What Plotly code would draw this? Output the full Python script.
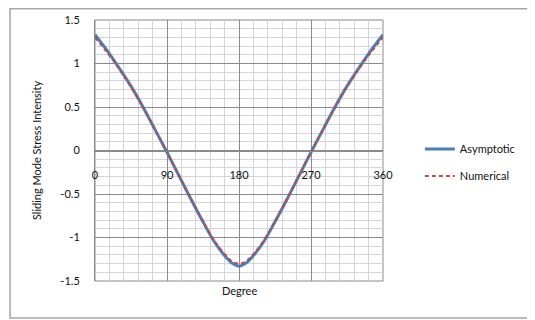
import plotly.graph_objects as go

# angles in degrees
degree = [0, 15, 30, 45, 60, 75, 90, 105, 120, 135, 150, 165, 172, 180,
          188, 195, 210, 225, 240, 255, 270, 285, 300, 315, 330, 345, 360]

asymptotic = [1.33, 1.15, 0.95, 0.74, 0.50, 0.24, -0.02, -0.29, -0.56, -0.82, -1.06, -1.24, -1.30, -1.33,
              -1.30, -1.24, -1.06, -0.82, -0.56, -0.29, -0.02, 0.24, 0.50, 0.74, 0.95, 1.15, 1.33]

numerical = [1.30, 1.13, 0.94, 0.73, 0.50, 0.24, -0.02, -0.29, -0.56, -0.81, -1.05, -1.22, -1.28, -1.30,
             -1.28, -1.22, -1.05, -0.81, -0.56, -0.29, -0.02, 0.24, 0.50, 0.73, 0.94, 1.13, 1.30]

x_ticks = [0, 90, 180, 270, 360]
y_ticks = [-1.5, -1, -0.5, 0, 0.5, 1, 1.5]
y_labels = ['-1.5', '-1', '-0.5', '0', '0.5', '1', '1.5']

FONT = "Lato, 'Open Sans', sans-serif"
MAJOR = '#8a8a8a'
MINOR = '#d4d4d4'

fig = go.Figure()
fig.add_trace(go.Scatter(x=degree, y=asymptotic, mode='lines', name='Asymptotic',
                         line=dict(color='#4a7ebb', width=3, shape='spline'),
                         legendgroup='a'))
fig.add_trace(go.Scatter(x=degree, y=numerical, mode='lines', name='Numerical',
                         line=dict(color='#be4b48', width=2, dash='4px,3px', shape='spline'),
                         legendgroup='n'))

# plot area border
fig.add_shape(type='rect', xref='paper', yref='paper', x0=0, y0=0, x1=1, y1=1,
              line=dict(color=MAJOR, width=1), layer='below')
# outer chart frame
fig.add_shape(type='rect', xref='paper', yref='paper', x0=-0.295, y0=-0.142, x1=1.521, y1=1.043,
              line=dict(color='#a6a6a6', width=1.5))

# page body adds 8px, so the figure is a bit smaller than the window
fig.update_layout(
    width=527, height=312,
    margin=dict(l=87, r=152, t=12, b=39),
    paper_bgcolor='white', plot_bgcolor='white',
    font=dict(family=FONT, size=11, color='#111111'),
    legend=dict(x=1.128, y=0.454, xanchor='left', yanchor='middle',
                font=dict(size=11), tracegroupgap=8, traceorder='grouped'),
    xaxis=dict(range=[0, 360], tickvals=x_ticks, ticktext=[str(v) for v in x_ticks],
               showgrid=True, gridcolor=MAJOR, gridwidth=1,
               minor=dict(dtick=18, showgrid=True, gridcolor=MINOR, gridwidth=1),
               anchor='free', position=0.5, showline=True, linecolor=MAJOR,
               ticks='', ticklabelstandoff=14, zeroline=False, automargin=False),
    yaxis=dict(range=[-1.5, 1.5], tickvals=y_ticks, ticktext=y_labels,
               showgrid=True, gridcolor=MAJOR, gridwidth=1,
               minor=dict(dtick=0.1, showgrid=True, gridcolor=MINOR, gridwidth=1),
               showline=True, linecolor=MAJOR, ticks='', ticklabelstandoff=12,
               zeroline=False, automargin=False,
               title=dict(text='Sliding Mode Stress Intensity', standoff=16,
                          font=dict(size=11))),
    annotations=[dict(text='Degree', xref='paper', yref='paper', x=0.5, y=-0.005,
                      xanchor='center', yanchor='top', showarrow=False,
                      font=dict(size=11))],
)

fig.write_html("out.html")
